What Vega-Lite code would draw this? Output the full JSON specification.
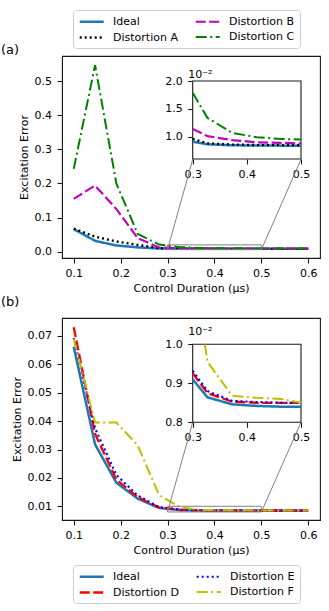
{
  "$schema": "https://vega.github.io/schema/vega-lite/v6.json",
  "padding": {"top": 8, "left": 0, "right": 10, "bottom": 10},
  "background": "white",
  "config": {
    "font": "DejaVu Sans",
    "view": {"stroke": "#1a1a1a", "strokeWidth": 1.1},
    "axis": {"grid": false, "labelFontSize": 11, "titleFontSize": 11, "titleFontWeight": "normal", "labelColor": "black", "titleColor": "black", "tickColor": "#1a1a1a", "domainColor": "#1a1a1a", "tickSize": 5, "tickWidth": 1.1, "labelPadding": 4, "titlePadding": 4, "labelFlush": false, "labelOverlap": false, "tickCount": 12},
    "axisY": {"labelPadding": 5.5},
    "title": {"fontSize": 13, "fontWeight": "normal", "color": "black", "font": "DejaVu Sans"}
  },
  "datasets": {
    "a_main": [
      {"series": "Ideal", "x": 0.1, "y": 0.0662}, {"series": "Ideal", "x": 0.1455, "y": 0.0318}, {"series": "Ideal", "x": 0.1909, "y": 0.0183}, {"series": "Ideal", "x": 0.2364, "y": 0.0127}, {"series": "Ideal", "x": 0.2818, "y": 0.0094}, {"series": "Ideal", "x": 0.3273, "y": 0.00864}, {"series": "Ideal", "x": 0.3727, "y": 0.00846}, {"series": "Ideal", "x": 0.4182, "y": 0.00842}, {"series": "Ideal", "x": 0.4636, "y": 0.0084}, {"series": "Ideal", "x": 0.5091, "y": 0.0084}, {"series": "Ideal", "x": 0.5545, "y": 0.0084}, {"series": "Ideal", "x": 0.6, "y": 0.0084},
      {"series": "Distortion A", "x": 0.1, "y": 0.068}, {"series": "Distortion A", "x": 0.1455, "y": 0.044}, {"series": "Distortion A", "x": 0.1909, "y": 0.03}, {"series": "Distortion A", "x": 0.2364, "y": 0.02}, {"series": "Distortion A", "x": 0.2818, "y": 0.0102}, {"series": "Distortion A", "x": 0.3273, "y": 0.0088}, {"series": "Distortion A", "x": 0.3727, "y": 0.0086}, {"series": "Distortion A", "x": 0.4182, "y": 0.0085}, {"series": "Distortion A", "x": 0.4636, "y": 0.0085}, {"series": "Distortion A", "x": 0.5091, "y": 0.0085}, {"series": "Distortion A", "x": 0.5545, "y": 0.0085}, {"series": "Distortion A", "x": 0.6, "y": 0.0085},
      {"series": "Distortion B", "x": 0.1, "y": 0.155}, {"series": "Distortion B", "x": 0.1455, "y": 0.194}, {"series": "Distortion B", "x": 0.1909, "y": 0.125}, {"series": "Distortion B", "x": 0.2364, "y": 0.04}, {"series": "Distortion B", "x": 0.2818, "y": 0.0123}, {"series": "Distortion B", "x": 0.3273, "y": 0.0101}, {"series": "Distortion B", "x": 0.3727, "y": 0.0094}, {"series": "Distortion B", "x": 0.4182, "y": 0.009}, {"series": "Distortion B", "x": 0.4636, "y": 0.0089}, {"series": "Distortion B", "x": 0.5091, "y": 0.0088}, {"series": "Distortion B", "x": 0.5545, "y": 0.0088}, {"series": "Distortion B", "x": 0.6, "y": 0.0088},
      {"series": "Distortion C", "x": 0.1, "y": 0.243}, {"series": "Distortion C", "x": 0.1455, "y": 0.547}, {"series": "Distortion C", "x": 0.1909, "y": 0.2}, {"series": "Distortion C", "x": 0.2364, "y": 0.052}, {"series": "Distortion C", "x": 0.2818, "y": 0.021}, {"series": "Distortion C", "x": 0.3273, "y": 0.01337}, {"series": "Distortion C", "x": 0.3727, "y": 0.0107}, {"series": "Distortion C", "x": 0.4182, "y": 0.0099}, {"series": "Distortion C", "x": 0.4636, "y": 0.0096}, {"series": "Distortion C", "x": 0.5091, "y": 0.0095}, {"series": "Distortion C", "x": 0.5545, "y": 0.0095}, {"series": "Distortion C", "x": 0.6, "y": 0.0095}
    ],
    "a_inset": [
      {"series": "Ideal", "x": 0.3, "y": 0.0091}, {"series": "Ideal", "x": 0.3273, "y": 0.00864}, {"series": "Ideal", "x": 0.3727, "y": 0.00846}, {"series": "Ideal", "x": 0.4182, "y": 0.00842}, {"series": "Ideal", "x": 0.4636, "y": 0.0084}, {"series": "Ideal", "x": 0.5, "y": 0.0084},
      {"series": "Distortion A", "x": 0.3, "y": 0.0096}, {"series": "Distortion A", "x": 0.3273, "y": 0.0088}, {"series": "Distortion A", "x": 0.3727, "y": 0.0086}, {"series": "Distortion A", "x": 0.4182, "y": 0.0085}, {"series": "Distortion A", "x": 0.4636, "y": 0.0085}, {"series": "Distortion A", "x": 0.5, "y": 0.0085},
      {"series": "Distortion B", "x": 0.3, "y": 0.0114}, {"series": "Distortion B", "x": 0.3273, "y": 0.0101}, {"series": "Distortion B", "x": 0.3727, "y": 0.0094}, {"series": "Distortion B", "x": 0.4182, "y": 0.009}, {"series": "Distortion B", "x": 0.4636, "y": 0.0089}, {"series": "Distortion B", "x": 0.5, "y": 0.0088},
      {"series": "Distortion C", "x": 0.3, "y": 0.0179}, {"series": "Distortion C", "x": 0.3273, "y": 0.01337}, {"series": "Distortion C", "x": 0.3727, "y": 0.0107}, {"series": "Distortion C", "x": 0.4182, "y": 0.0099}, {"series": "Distortion C", "x": 0.4636, "y": 0.0096}, {"series": "Distortion C", "x": 0.5, "y": 0.0095}
    ],
    "b_main": [
      {"series": "Ideal", "x": 0.1, "y": 0.0662}, {"series": "Ideal", "x": 0.1455, "y": 0.0318}, {"series": "Ideal", "x": 0.1909, "y": 0.0183}, {"series": "Ideal", "x": 0.2364, "y": 0.0127}, {"series": "Ideal", "x": 0.2818, "y": 0.0094}, {"series": "Ideal", "x": 0.3273, "y": 0.00864}, {"series": "Ideal", "x": 0.3727, "y": 0.00846}, {"series": "Ideal", "x": 0.4182, "y": 0.00842}, {"series": "Ideal", "x": 0.4636, "y": 0.0084}, {"series": "Ideal", "x": 0.5091, "y": 0.0084}, {"series": "Ideal", "x": 0.5545, "y": 0.0084}, {"series": "Ideal", "x": 0.6, "y": 0.0084},
      {"series": "Distortion D", "x": 0.1, "y": 0.0731}, {"series": "Distortion D", "x": 0.1455, "y": 0.0355}, {"series": "Distortion D", "x": 0.1909, "y": 0.0194}, {"series": "Distortion D", "x": 0.2364, "y": 0.0132}, {"series": "Distortion D", "x": 0.2818, "y": 0.0096}, {"series": "Distortion D", "x": 0.3273, "y": 0.00875}, {"series": "Distortion D", "x": 0.3727, "y": 0.00853}, {"series": "Distortion D", "x": 0.4182, "y": 0.0085}, {"series": "Distortion D", "x": 0.4636, "y": 0.0085}, {"series": "Distortion D", "x": 0.5091, "y": 0.0085}, {"series": "Distortion D", "x": 0.5545, "y": 0.0085}, {"series": "Distortion D", "x": 0.6, "y": 0.0085},
      {"series": "Distortion E", "x": 0.1, "y": 0.0693}, {"series": "Distortion E", "x": 0.1455, "y": 0.0375}, {"series": "Distortion E", "x": 0.1909, "y": 0.021}, {"series": "Distortion E", "x": 0.2364, "y": 0.0138}, {"series": "Distortion E", "x": 0.2818, "y": 0.0097}, {"series": "Distortion E", "x": 0.3273, "y": 0.0088}, {"series": "Distortion E", "x": 0.3727, "y": 0.00855}, {"series": "Distortion E", "x": 0.4182, "y": 0.00852}, {"series": "Distortion E", "x": 0.4636, "y": 0.0085}, {"series": "Distortion E", "x": 0.5091, "y": 0.0085}, {"series": "Distortion E", "x": 0.5545, "y": 0.0085}, {"series": "Distortion E", "x": 0.6, "y": 0.0085},
      {"series": "Distortion F", "x": 0.1, "y": 0.069}, {"series": "Distortion F", "x": 0.1455, "y": 0.0395}, {"series": "Distortion F", "x": 0.1909, "y": 0.0395}, {"series": "Distortion F", "x": 0.2364, "y": 0.0315}, {"series": "Distortion F", "x": 0.2818, "y": 0.014}, {"series": "Distortion F", "x": 0.3273, "y": 0.00955}, {"series": "Distortion F", "x": 0.3727, "y": 0.00868}, {"series": "Distortion F", "x": 0.4182, "y": 0.00863}, {"series": "Distortion F", "x": 0.4636, "y": 0.0086}, {"series": "Distortion F", "x": 0.5091, "y": 0.0085}, {"series": "Distortion F", "x": 0.5545, "y": 0.0085}, {"series": "Distortion F", "x": 0.6, "y": 0.0085}
    ],
    "b_inset": [
      {"series": "Ideal", "x": 0.3, "y": 0.0091}, {"series": "Ideal", "x": 0.3273, "y": 0.00864}, {"series": "Ideal", "x": 0.3727, "y": 0.00846}, {"series": "Ideal", "x": 0.4182, "y": 0.00842}, {"series": "Ideal", "x": 0.4636, "y": 0.0084}, {"series": "Ideal", "x": 0.5, "y": 0.0084},
      {"series": "Distortion D", "x": 0.3, "y": 0.00926}, {"series": "Distortion D", "x": 0.3273, "y": 0.00875}, {"series": "Distortion D", "x": 0.3727, "y": 0.00853}, {"series": "Distortion D", "x": 0.4182, "y": 0.0085}, {"series": "Distortion D", "x": 0.4636, "y": 0.0085}, {"series": "Distortion D", "x": 0.5, "y": 0.0085},
      {"series": "Distortion E", "x": 0.3, "y": 0.00932}, {"series": "Distortion E", "x": 0.3273, "y": 0.0088}, {"series": "Distortion E", "x": 0.3727, "y": 0.00855}, {"series": "Distortion E", "x": 0.4182, "y": 0.00852}, {"series": "Distortion E", "x": 0.4636, "y": 0.0085}, {"series": "Distortion E", "x": 0.5, "y": 0.0085},
      {"series": "Distortion F", "x": 0.3225, "y": 0.01}, {"series": "Distortion F", "x": 0.3273, "y": 0.00955}, {"series": "Distortion F", "x": 0.3727, "y": 0.00868}, {"series": "Distortion F", "x": 0.4182, "y": 0.00863}, {"series": "Distortion F", "x": 0.4636, "y": 0.0086}, {"series": "Distortion F", "x": 0.5, "y": 0.0085}
    ],
    "a_zoom": [{"x": 0.3, "x2": 0.5, "y": 0.006, "y2": 0.02}],
    "b_zoom": [{"x": 0.3, "x2": 0.5, "y": 0.008, "y2": 0.01}],
    "a_conn": [{"x": 0.3, "y": 0.006, "x2": 0.3536, "y2": 0.2706}, {"x": 0.5, "y": 0.006, "x2": 0.5845, "y2": 0.2706}],
    "b_conn": [{"x": 0.3, "y": 0.008, "x2": 0.3536, "y2": 0.0396}, {"x": 0.5, "y": 0.008, "x2": 0.5845, "y2": 0.0396}]
  },
  "vconcat": [
    {
      "title": {"text": "(a)", "anchor": "start", "frame": "group", "dx": -61, "offset": -47},
      "width": 258,
      "height": 202,
      "layer": [
        {
          "layer": [
            {
              "data": {"name": "a_main"},
              "mark": {"type": "line"},
              "encoding": {
                "x": {"field": "x", "type": "quantitative", "title": "Control Duration (μs)", "scale": {"domain": [0.075, 0.625], "nice": false, "zero": false}, "axis": {"values": [0.1, 0.2, 0.3, 0.4, 0.5, 0.6], "format": ".1f", "labelOverlap": false, "tickCount": 12}},
                "y": {"field": "y", "type": "quantitative", "title": "Excitation Error", "scale": {"domain": [-0.0185, 0.5739], "nice": false, "zero": false}, "axis": {"values": [0, 0.1, 0.2, 0.3, 0.4, 0.5], "format": ".1f", "labelOverlap": false, "tickCount": 12, "titlePadding": 5}},
                "color": {"field": "series", "type": "nominal", "scale": {"domain": ["Ideal", "Distortion A", "Distortion B", "Distortion C"], "range": ["#1f77b4", "#000000", "#bf00bf", "#008000"]},
                  "legend": {"title": null, "orient": "none", "legendX": 11, "legendY": -46, "columns": 2, "symbolType": "M-0.96,0H3.84", "symbolSize": 100, "symbolStrokeWidth": 2, "labelFontSize": 11, "labelOffset": 22, "columnPadding": 13, "rowPadding": 4, "padding": 5, "strokeColor": "#cccccc", "fillColor": "white", "cornerRadius": 3, "labelColor": "black", "labelLimit": 200}},
                "strokeDash": {"field": "series", "type": "nominal", "scale": {"domain": ["Ideal", "Distortion A", "Distortion B", "Distortion C"], "range": [[1, 0], [2, 3], [10, 3.5], [11, 3.5, 2, 3.5]]},
                  "legend": {"title": null, "orient": "none", "legendX": 11, "legendY": -46, "columns": 2, "symbolType": "M-0.96,0H3.84", "symbolSize": 100, "symbolStrokeWidth": 2, "labelFontSize": 11, "labelOffset": 22, "columnPadding": 13, "rowPadding": 4, "padding": 5, "strokeColor": "#cccccc", "fillColor": "white", "cornerRadius": 3, "labelColor": "black", "labelLimit": 200}},
                "strokeWidth": {"field": "series", "type": "nominal", "scale": {"domain": ["Ideal", "Distortion A", "Distortion B", "Distortion C"], "range": [2.5, 2, 2, 2]}, "legend": null}
              }
            },
            {
              "data": {"name": "a_zoom"},
              "mark": {"type": "rect", "fillOpacity": 0, "stroke": "#808080", "strokeWidth": 1},
              "encoding": {
                "x": {"field": "x", "type": "quantitative", "title": "Control Duration (μs)"},
                "x2": {"field": "x2"},
                "y": {"field": "y", "type": "quantitative", "title": "Excitation Error"},
                "y2": {"field": "y2"}
              }
            },
            {
              "data": {"name": "a_conn"},
              "mark": {"type": "rule", "stroke": "#808080", "strokeWidth": 1},
              "encoding": {
                "x": {"field": "x", "type": "quantitative", "title": "Control Duration (μs)"},
                "x2": {"field": "x2"},
                "y": {"field": "y", "type": "quantitative", "title": "Excitation Error"},
                "y2": {"field": "y2"}
              }
            }
          ]
        },
        {
          "layer": [
            {
              "data": {"name": "a_zoom"},
              "mark": {"type": "rect", "fill": "white", "stroke": "#1a1a1a", "strokeWidth": 1.1},
              "encoding": {
                "x": {"field": "x", "type": "quantitative", "title": null, "scale": {"domain": [0.3, 0.5], "range": [130.7, 239], "nice": false, "zero": false}, "axis": {"orient": "bottom", "offset": -99, "values": [0.3, 0.4, 0.5], "format": ".1f", "domain": false, "labelOverlap": false}},
                "x2": {"field": "x2"},
                "y": {"field": "y", "type": "quantitative", "title": "10⁻²", "scale": {"domain": [0.006, 0.02], "range": [103, 25], "nice": false, "zero": false}, "axis": {"orient": "left", "offset": -130.7, "values": [0.01, 0.015, 0.02], "labelExpr": "format(datum.value*100, '.1f')", "domain": false, "labelOverlap": false, "titleAngle": 0, "titleAlign": "left", "titleBaseline": "bottom", "titleX": -5, "titleY": 23}},
                "y2": {"field": "y2"}
              }
            },
            {
              "data": {"name": "a_inset"},
              "mark": {"type": "line"},
              "encoding": {
                "x": {"field": "x", "type": "quantitative", "title": null, "scale": {"domain": [0.3, 0.5], "range": [130.7, 239], "nice": false, "zero": false}, "axis": {"orient": "bottom", "offset": -99, "values": [0.3, 0.4, 0.5], "format": ".1f", "domain": false, "labelOverlap": false}},
                "y": {"field": "y", "type": "quantitative", "title": "10⁻²", "scale": {"domain": [0.006, 0.02], "range": [103, 25], "nice": false, "zero": false}, "axis": {"orient": "left", "offset": -130.7, "values": [0.01, 0.015, 0.02], "labelExpr": "format(datum.value*100, '.1f')", "domain": false, "labelOverlap": false, "titleAngle": 0, "titleAlign": "left", "titleBaseline": "bottom", "titleX": -5, "titleY": 23}},
                "color": {"field": "series", "type": "nominal", "legend": null},
                "strokeDash": {"field": "series", "type": "nominal", "legend": null},
                "strokeWidth": {"field": "series", "type": "nominal", "legend": null}
              }
            }
          ]
        }
      ],
      "resolve": {"scale": {"x": "independent", "y": "independent"}}
    },
    {
      "title": {"text": "(b)", "anchor": "start", "frame": "group", "dx": -61, "offset": 9},
      "width": 258,
      "height": 202,
      "layer": [
        {
          "layer": [
            {
              "data": {"name": "b_main"},
              "mark": {"type": "line"},
              "encoding": {
                "x": {"field": "x", "type": "quantitative", "title": "Control Duration (μs)", "scale": {"domain": [0.075, 0.625], "nice": false, "zero": false}, "axis": {"values": [0.1, 0.2, 0.3, 0.4, 0.5, 0.6], "format": ".1f", "labelOverlap": false, "tickCount": 12}},
                "y": {"field": "y", "type": "quantitative", "title": "Excitation Error", "scale": {"domain": [0.005165, 0.07634], "nice": false, "zero": false}, "axis": {"values": [0.01, 0.02, 0.03, 0.04, 0.05, 0.06, 0.07], "format": ".2f", "labelOverlap": false, "tickCount": 12, "titlePadding": 5}},
                "color": {"field": "series", "type": "nominal", "scale": {"domain": ["Ideal", "Distortion D", "Distortion E", "Distortion F"], "range": ["#1f77b4", "#ff0000", "#0000ff", "#bfbf00"]},
                  "legend": {"title": null, "orient": "none", "legendX": 11, "legendY": 247, "columns": 2, "symbolType": "M-0.96,0H3.84", "symbolSize": 100, "symbolStrokeWidth": 2, "labelFontSize": 11, "labelOffset": 22, "columnPadding": 13, "rowPadding": 4, "padding": 5, "strokeColor": "#cccccc", "fillColor": "white", "cornerRadius": 3, "labelColor": "black", "labelLimit": 200}},
                "strokeDash": {"field": "series", "type": "nominal", "scale": {"domain": ["Ideal", "Distortion D", "Distortion E", "Distortion F"], "range": [[1, 0], [10, 3.5], [2, 3], [11, 3.5, 2, 3.5]]},
                  "legend": {"title": null, "orient": "none", "legendX": 11, "legendY": 247, "columns": 2, "symbolType": "M-0.96,0H3.84", "symbolSize": 100, "symbolStrokeWidth": 2, "labelFontSize": 11, "labelOffset": 22, "columnPadding": 13, "rowPadding": 4, "padding": 5, "strokeColor": "#cccccc", "fillColor": "white", "cornerRadius": 3, "labelColor": "black", "labelLimit": 200}},
                "strokeWidth": {"field": "series", "type": "nominal", "scale": {"domain": ["Ideal", "Distortion D", "Distortion E", "Distortion F"], "range": [2.5, 2, 2, 2]}, "legend": null}
              }
            },
            {
              "data": {"name": "b_zoom"},
              "mark": {"type": "rect", "fillOpacity": 0, "stroke": "#808080", "strokeWidth": 1},
              "encoding": {
                "x": {"field": "x", "type": "quantitative", "title": "Control Duration (μs)"},
                "x2": {"field": "x2"},
                "y": {"field": "y", "type": "quantitative", "title": "Excitation Error"},
                "y2": {"field": "y2"}
              }
            },
            {
              "data": {"name": "b_conn"},
              "mark": {"type": "rule", "stroke": "#808080", "strokeWidth": 1},
              "encoding": {
                "x": {"field": "x", "type": "quantitative", "title": "Control Duration (μs)"},
                "x2": {"field": "x2"},
                "y": {"field": "y", "type": "quantitative", "title": "Excitation Error"},
                "y2": {"field": "y2"}
              }
            }
          ]
        },
        {
          "layer": [
            {
              "data": {"name": "b_zoom"},
              "mark": {"type": "rect", "fill": "white", "stroke": "#1a1a1a", "strokeWidth": 1.1},
              "encoding": {
                "x": {"field": "x", "type": "quantitative", "title": null, "scale": {"domain": [0.3, 0.5], "range": [130.7, 239], "nice": false, "zero": false}, "axis": {"orient": "bottom", "offset": -97.7, "values": [0.3, 0.4, 0.5], "format": ".1f", "domain": false, "labelOverlap": false}},
                "x2": {"field": "x2"},
                "y": {"field": "y", "type": "quantitative", "title": "10⁻²", "scale": {"domain": [0.008, 0.01], "range": [104.3, 26.3], "nice": false, "zero": false}, "axis": {"orient": "left", "offset": -130.7, "values": [0.008, 0.009, 0.01], "labelExpr": "format(datum.value*100, '.1f')", "domain": false, "labelOverlap": false, "titleAngle": 0, "titleAlign": "left", "titleBaseline": "bottom", "titleX": -5, "titleY": 18}},
                "y2": {"field": "y2"}
              }
            },
            {
              "data": {"name": "b_inset"},
              "mark": {"type": "line"},
              "encoding": {
                "x": {"field": "x", "type": "quantitative", "title": null, "scale": {"domain": [0.3, 0.5], "range": [130.7, 239], "nice": false, "zero": false}, "axis": {"orient": "bottom", "offset": -97.7, "values": [0.3, 0.4, 0.5], "format": ".1f", "domain": false, "labelOverlap": false}},
                "y": {"field": "y", "type": "quantitative", "title": "10⁻²", "scale": {"domain": [0.008, 0.01], "range": [104.3, 26.3], "nice": false, "zero": false}, "axis": {"orient": "left", "offset": -130.7, "values": [0.008, 0.009, 0.01], "labelExpr": "format(datum.value*100, '.1f')", "domain": false, "labelOverlap": false, "titleAngle": 0, "titleAlign": "left", "titleBaseline": "bottom", "titleX": -5, "titleY": 18}},
                "color": {"field": "series", "type": "nominal", "legend": null},
                "strokeDash": {"field": "series", "type": "nominal", "legend": null},
                "strokeWidth": {"field": "series", "type": "nominal", "legend": null}
              }
            }
          ]
        }
      ],
      "resolve": {"scale": {"x": "independent", "y": "independent"}}
    }
  ],
  "spacing": 60,
  "bounds": "flush",
  "resolve": {"scale": {"color": "independent", "strokeDash": "independent", "strokeWidth": "independent"}, "legend": {"color": "independent", "strokeDash": "independent"}}
}
